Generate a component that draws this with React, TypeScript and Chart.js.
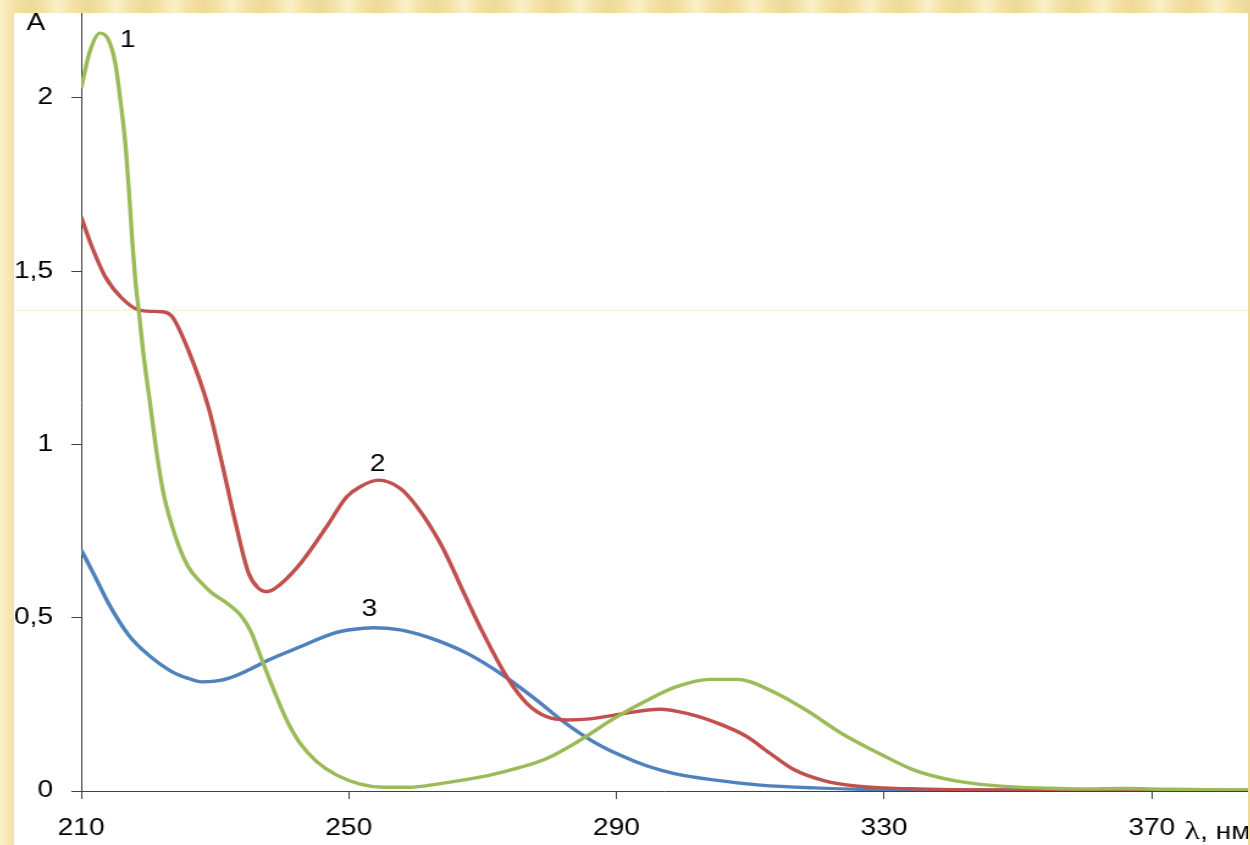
import { useEffect, useRef } from 'react';
import { Chart, registerables } from 'chart.js';

Chart.register(...registerables);

// Curve 1 (green)
const wavelength1 = [210, 211.3, 212.8, 214.1, 215.1, 215.8, 216.6, 217.1, 217.6, 218.1, 218.6, 219.3, 220.3, 221.3, 222.3, 224.1, 226, 228, 229.5, 231.5, 234, 235.5, 236.3, 237.3, 238.8, 240.7, 242.7, 245.2, 248.2, 251.7, 255.2, 259.2, 263.2, 267.2, 271.1, 275.6, 279.6, 284.6, 289.6, 294.6, 299, 304, 308, 313.5, 318.5, 323.5, 329.5, 334.4, 339.4, 344.4, 349.4, 354.4, 360, 366, 372, 378, 385];
const absorbance1 = [2.028, 2.134, 2.187, 2.167, 2.1, 2.004, 1.869, 1.744, 1.6, 1.475, 1.388, 1.263, 1.119, 0.975, 0.859, 0.734, 0.647, 0.6, 0.572, 0.546, 0.503, 0.455, 0.415, 0.364, 0.291, 0.205, 0.138, 0.085, 0.046, 0.02, 0.011, 0.011, 0.02, 0.032, 0.046, 0.068, 0.094, 0.147, 0.209, 0.262, 0.301, 0.322, 0.322, 0.286, 0.232, 0.168, 0.106, 0.061, 0.034, 0.019, 0.012, 0.008, 0.006, 0.007, 0.005, 0.004, 0.003];

// Curve 2 (red)
const wavelength2 = [210, 211.6, 213.6, 216.1, 218.6, 220.5, 222.1, 223.6, 226, 229, 231, 233, 235, 236.5, 237.7, 239, 242.5, 246.7, 249.7, 251.7, 254.4, 257.7, 260.2, 263.7, 267.7, 269.6, 273.6, 276.6, 279.6, 282.6, 286.1, 290.6, 296.5, 300.5, 305.5, 309.5, 313, 316.5, 321, 325.4, 330, 335, 340, 350, 385];
const absorbance2 = [1.657, 1.571, 1.484, 1.422, 1.388, 1.384, 1.383, 1.369, 1.273, 1.109, 0.95, 0.78, 0.63, 0.585, 0.575, 0.585, 0.65, 0.763, 0.849, 0.878, 0.897, 0.873, 0.82, 0.714, 0.551, 0.474, 0.33, 0.253, 0.214, 0.205, 0.208, 0.222, 0.236, 0.224, 0.193, 0.157, 0.108, 0.062, 0.03, 0.015, 0.009, 0.006, 0.004, 0.002, 0.001];

// Curve 3 (blue)
const wavelength3 = [210, 212.1, 214.1, 217.1, 220.1, 223.6, 226, 228, 230, 232, 235, 238, 242.7, 247.7, 250.5, 253.7, 257.7, 260.5, 263.7, 267.7, 272.6, 278.1, 282.1, 286.6, 290.6, 294.6, 298.5, 304.5, 311.5, 319.5, 329.5, 345, 385];
const absorbance3 = [0.696, 0.618, 0.541, 0.45, 0.392, 0.344, 0.325, 0.315, 0.317, 0.325, 0.349, 0.378, 0.416, 0.455, 0.466, 0.471, 0.465, 0.452, 0.431, 0.397, 0.34, 0.262, 0.2, 0.142, 0.103, 0.072, 0.051, 0.032, 0.017, 0.009, 0.004, 0.003, 0.002];

const seriesNames = ['1', '2', '3'];
const seriesColors = ['#9BBB59', '#C0504D', '#4F81BD'];
const seriesLabelX = [216.95, 254.3, 253.1];
const seriesLabelY = [2.165, 0.941, 0.522];

const xTicks = [210, 250, 290, 330, 370];
const yTicks = [0, 0.5, 1, 1.5, 2];
const X_MIN = 210;
const X_MAX = 384.4;
const Y_MIN = 0;
const Y_MAX = 2.245;
const yTitle = 'A';
const xTitleSymbol = 'λ';
const xTitleUnit = ', нм';

const STRETCH = 1234 / 1011;
const CANVAS_W = 1011;
const CANVAS_H = 832;
const SANS = "'Liberation Sans', Arial, sans-serif";
const SERIF = "'Liberation Serif', 'Times New Roman', serif";

export default function App() {
  const ref = useRef<HTMLCanvasElement>(null);

  useEffect(() => {
    document.body.style.margin = '0';
    const canvas = ref.current;
    if (!canvas) return;

    const annotations = {
      id: 'annotations',
      afterDraw(chart: any) {
        const { ctx, chartArea } = chart;
        const xs = chart.scales.x;
        const ys = chart.scales.y;
        ctx.save();
        ctx.fillStyle = '#000';
        ctx.font = `23px ${SANS}`;
        ctx.textAlign = 'center';
        ctx.textBaseline = 'middle';
        seriesNames.forEach((n, i) => {
          ctx.fillText(n, xs.getPixelForValue(seriesLabelX[i]), ys.getPixelForValue(seriesLabelY[i]));
        });
        ctx.fillText(yTitle, chartArea.left - 37, chartArea.top + 11);
        // x axis title after last tick label
        ctx.textAlign = 'left';
        ctx.textBaseline = 'alphabetic';
        const tx = xs.getPixelForValue(xTicks[xTicks.length - 1]) + 27;
        const ty = chartArea.bottom + 48;
        ctx.font = `26px ${SERIF}`;
        ctx.fillText(xTitleSymbol, tx, ty);
        const w = ctx.measureText(xTitleSymbol).width;
        ctx.font = `23px ${SANS}`;
        ctx.fillText(xTitleUnit, tx + w, ty);
        ctx.restore();
      },
    };

    const makeData = (xs: number[], ys: number[]) => xs.map((x, i) => ({ x, y: ys[i] }));
    const wl = [wavelength1, wavelength2, wavelength3];
    const ab = [absorbance1, absorbance2, absorbance3];

    const chart = new Chart(canvas, {
      type: 'line',
      data: {
        datasets: seriesNames.map((name, i) => ({
          label: name,
          data: makeData(wl[i], ab[i]),
          borderColor: seriesColors[i],
          backgroundColor: seriesColors[i],
          borderWidth: 3.4,
          pointRadius: 0,
          fill: false,
          cubicInterpolationMode: 'monotone' as const,
        })),
      },
      options: {
        responsive: false,
        animation: false,
        maintainAspectRatio: false,
        layout: { padding: 0 },
        plugins: {
          legend: { display: false },
          tooltip: { enabled: false },
          title: { display: false },
        },
        scales: {
          x: {
            type: 'linear',
            min: X_MIN,
            max: X_MAX,
            afterBuildTicks: (s: any) => {
              s.ticks = xTicks.map((v) => ({ value: v }));
            },
            afterFit: (s: any) => {
              s.height = 54;
              s.paddingLeft = 0;
              s.paddingRight = 0;
            },
            grid: { drawOnChartArea: false, drawTicks: true, tickLength: 8, color: '#404040', lineWidth: 1 },
            border: { display: true, color: '#404040', width: 1 },
            ticks: {
              color: '#000',
              font: { family: SANS, size: 23 },
              padding: 16,
              maxRotation: 0,
              autoSkip: false,
              callback: (v: any) => String(v),
            },
          },
          y: {
            type: 'linear',
            min: Y_MIN,
            max: Y_MAX,
            afterBuildTicks: (s: any) => {
              s.ticks = yTicks.map((v) => ({ value: v }));
            },
            afterFit: (s: any) => {
              s.width = 55;
              s.paddingTop = 0;
              s.paddingBottom = 0;
            },
            grid: { drawOnChartArea: false, drawTicks: true, tickLength: 8, color: '#404040', lineWidth: 1 },
            border: { display: true, color: '#404040', width: 1 },
            ticks: {
              color: '#000',
              font: { family: SANS, size: 23 },
              padding: 15,
              autoSkip: false,
              callback: (v: any) => String(v).replace('.', ','),
            },
          },
        },
      },
      plugins: [annotations],
    });

    return () => chart.destroy();
  }, []);

  const beige =
    'repeating-linear-gradient(90deg, rgba(255,250,225,0.55) 0px, rgba(255,250,225,0.0) 14px, rgba(226,200,120,0.35) 30px, rgba(255,250,225,0.0) 44px, rgba(255,250,225,0.55) 58px), #F4E2A8';

  return (
    <div style={{ position: 'relative', width: 1250, height: 845, background: beige, overflow: 'hidden' }}>
      <div style={{ position: 'absolute', left: 14, top: 13, width: 1234, height: 832, background: '#fff' }} />
      <div style={{ position: 'absolute', left: 14, top: 310, width: 1234, height: 1, background: '#FAF1D2' }} />
      <div
        style={{
          position: 'absolute',
          left: 14,
          top: 13,
          width: CANVAS_W,
          height: CANVAS_H,
          transform: `scaleX(${STRETCH})`,
          transformOrigin: '0 0',
        }}
      >
        <canvas ref={ref} width={CANVAS_W} height={CANVAS_H} style={{ width: CANVAS_W, height: CANVAS_H, display: 'block' }} />
      </div>
    </div>
  );
}
